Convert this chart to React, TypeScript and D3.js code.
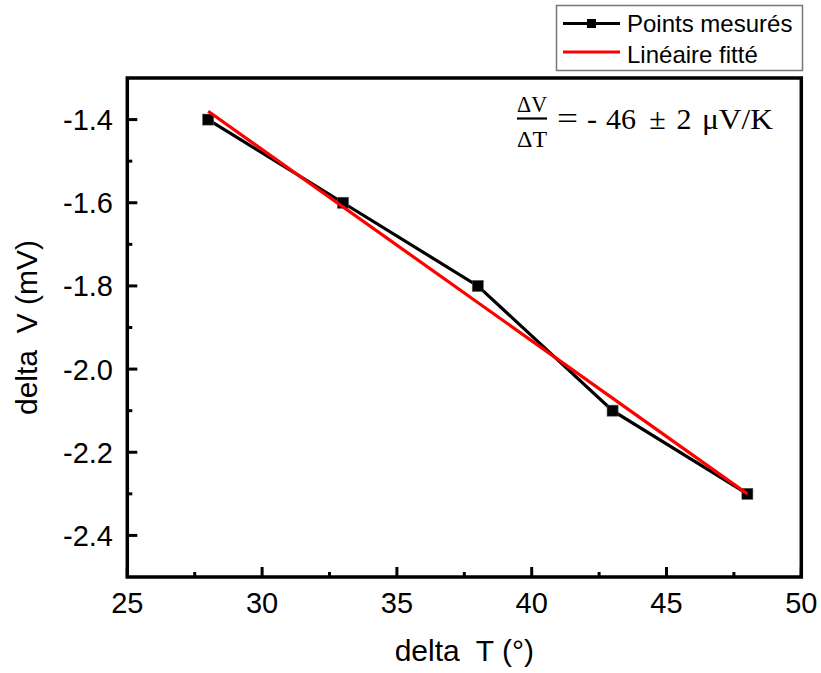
import React from "react";
import * as d3 from "d3";

const xValues = [28, 33, 38, 43, 48];
const yValues = [-1.4, -1.6, -1.8, -2.1, -2.3];
const fitX = [28, 48];
const fitY = [-1.38, -2.3];
const xTicks = [25, 30, 35, 40, 45, 50];
const xMinorTicks = [27.5, 32.5, 37.5, 42.5, 47.5];
const yTicks = [-1.4, -1.6, -1.8, -2.0, -2.2, -2.4];
const yMinorTicks = [-1.3, -1.5, -1.7, -1.9, -2.1, -2.3, -2.5];
const legendLabels = ["Points mesurés", "Linéaire fitté"];
const xTitle = "delta  T (°)";
const yTitle = "delta  V (mV)";

const W = 821;
const H = 673;
const left = 127.3;
const right = 801.3;
const top = 78;
const bottom = 577;

export default function App() {
  const x = d3.scaleLinear().domain([25, 50]).range([left, right]);
  const y = d3.scaleLinear().domain([-2.5, -1.3]).range([bottom, top]);
  const pts = xValues.map((v, i) => [v, yValues[i]] as [number, number]);
  const fit = fitX.map((v, i) => [v, fitY[i]] as [number, number]);
  const line = d3
    .line<[number, number]>()
    .x((d) => x(d[0]))
    .y((d) => y(d[1]));
  const sans = "'Liberation Sans', Arial, sans-serif";
  const serif = "'Liberation Serif', 'Times New Roman', serif";
  const ms = 11;
  return (
    <svg
      width={W}
      height={H}
      style={{ position: "absolute", left: 0, top: 0, background: "#fff" }}
    >
      <rect x={0} y={0} width={W} height={H} fill="#fff" />
      {/* data line */}
      <path d={line(pts) || ""} fill="none" stroke="#000" strokeWidth={3.2} />
      {pts.map((p, i) => (
        <rect
          key={i}
          x={x(p[0]) - ms / 2}
          y={y(p[1]) - ms / 2}
          width={ms}
          height={ms}
          fill="#000"
          stroke="#555"
          strokeWidth={0.6}
        />
      ))}
      <path d={line(fit) || ""} fill="none" stroke="#ff0000" strokeWidth={3.2} />
      {/* frame */}
      <rect
        x={left}
        y={top}
        width={right - left}
        height={bottom - top}
        fill="none"
        stroke="#000"
        strokeWidth={3.5}
      />
      {/* x ticks */}
      {xTicks.map((t) => (
        <g key={"xt" + t}>
          <line x1={x(t)} x2={x(t)} y1={bottom} y2={bottom - 10} stroke="#000" strokeWidth={3} />
          <text
            x={x(t)}
            y={613}
            textAnchor="middle"
            fontFamily={sans}
            fontSize={29}
            fill="#000"
          >
            {t}
          </text>
        </g>
      ))}
      {xMinorTicks.map((t) => (
        <line key={"xm" + t} x1={x(t)} x2={x(t)} y1={bottom} y2={bottom - 5} stroke="#000" strokeWidth={3} />
      ))}
      {/* y ticks */}
      {yTicks.map((t) => (
        <g key={"yt" + t}>
          <line x1={left} x2={left + 10} y1={y(t)} y2={y(t)} stroke="#000" strokeWidth={3} />
          <text
            x={113}
            y={y(t) + 10.5}
            textAnchor="end"
            fontFamily={sans}
            fontSize={29}
            fill="#000"
          >
            {d3.format(".1f")(t).replace("−", "-")}
          </text>
        </g>
      ))}
      {yMinorTicks
        .filter((t) => y(t) > top + 2 && y(t) < bottom - 2)
        .map((t) => (
          <line key={"ym" + t} x1={left} x2={left + 5} y1={y(t)} y2={y(t)} stroke="#000" strokeWidth={3} />
        ))}
      {/* axis titles */}
      <text
        x={(left + right) / 2}
        y={661}
        textAnchor="middle"
        fontFamily={sans}
        fontSize={30}
        fill="#000"
        style={{ whiteSpace: "pre" }}
      >
        {xTitle}
      </text>
      <text
        transform={`translate(37,${(top + bottom) / 2}) rotate(-90)`}
        textAnchor="middle"
        fontFamily={sans}
        fontSize={30}
        fill="#000"
        style={{ whiteSpace: "pre" }}
      >
        {yTitle}
      </text>
      {/* legend */}
      <rect x={556.5} y={5.5} width={246} height={65} fill="#fff" stroke="#777" strokeWidth={1.5} />
      <line x1={563} x2={620} y1={23.5} y2={23.5} stroke="#000" strokeWidth={3.2} />
      <rect x={591.5 - 4.5} y={23.5 - 4.5} width={9} height={9} fill="#000" />
      <text x={627} y={31.5} fontFamily={sans} fontSize={24} fill="#000">
        {legendLabels[0]}
      </text>
      <line x1={563} x2={620} y1={52} y2={52} stroke="#ff0000" strokeWidth={3.2} />
      <text x={627} y={62.5} fontFamily={sans} fontSize={24} fill="#000">
        {legendLabels[1]}
      </text>
      {/* annotation */}
      <g fontFamily={serif} fill="#000">
        <text x={532} y={112} textAnchor="middle" fontSize={23} textLength={30} lengthAdjust="spacingAndGlyphs">
          ΔV
        </text>
        <line x1={517} x2={547} y1={118.5} y2={118.5} stroke="#000" strokeWidth={2.2} />
        <text x={532} y={146.5} textAnchor="middle" fontSize={23} textLength={30} lengthAdjust="spacingAndGlyphs">
          ΔT
        </text>
        <text x={567.5} y={129} textAnchor="middle" fontSize={32} textLength={21} lengthAdjust="spacingAndGlyphs">
          =
        </text>
        <text x={592} y={128.5} textAnchor="middle" fontSize={30}>
          -
        </text>
        <text x={621} y={128.5} textAnchor="middle" fontSize={30}>
          46
        </text>
        <text x={657.5} y={128.5} textAnchor="middle" fontSize={30}>
          ±
        </text>
        <text x={684} y={128.5} textAnchor="middle" fontSize={30}>
          2
        </text>
        <text x={702} y={128.5} fontSize={30} textLength={71} lengthAdjust="spacingAndGlyphs">
          μV/K
        </text>
      </g>
    </svg>
  );
}
